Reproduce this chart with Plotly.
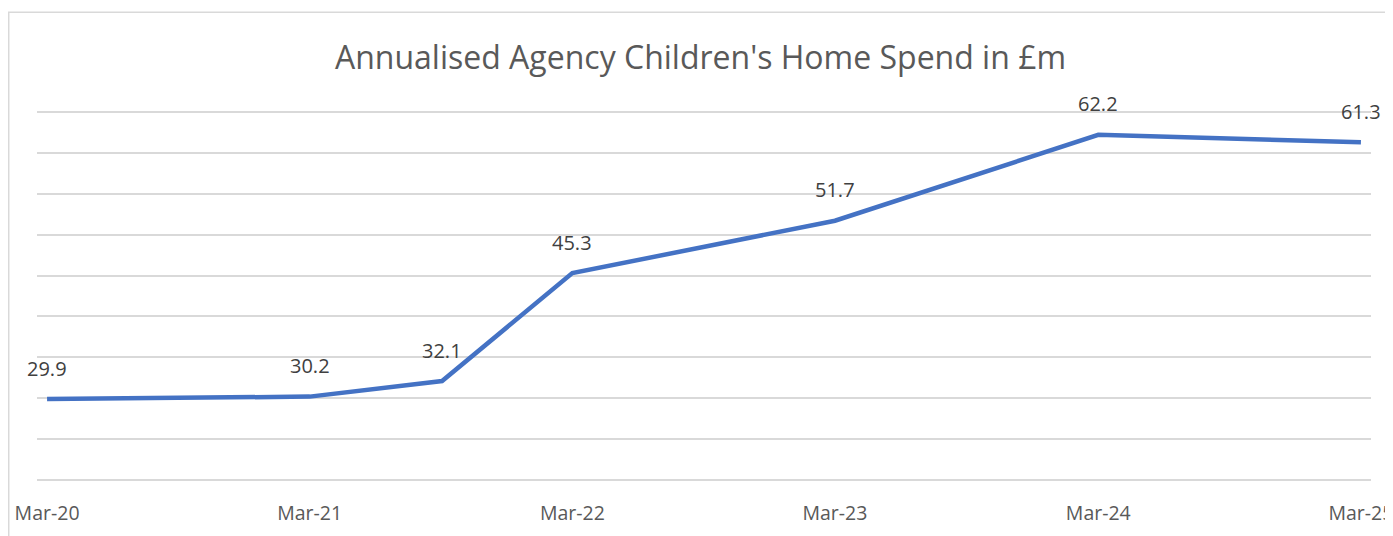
import plotly.graph_objects as go

# Annualised agency children's home spend (£m)
dates = ["2020-03-01", "2021-03-01", "2021-09-01", "2022-03-01",
         "2023-03-01", "2024-03-01", "2025-03-01"]
spend = [29.9, 30.2, 32.1, 45.3, 51.7, 62.2, 61.3]
labels = ["29.9", "30.2", "32.1", "45.3", "51.7", "62.2", "61.3"]

tick_vals = ["2020-03-01", "2021-03-01", "2022-03-01", "2023-03-01",
             "2024-03-01", "2025-03-01"]
tick_text = ["Mar-20", "Mar-21", "Mar-22", "Mar-23", "Mar-24", "Mar-25"]

FONT = "Open Sans"

fig = go.Figure()
fig.add_trace(go.Scatter(x=dates, y=spend, mode="lines",
                         line=dict(color="#4472C4", width=4.5),
                         hoverinfo="x+y", showlegend=False))

for d, v, t in zip(dates, spend, labels):
    fig.add_annotation(x=d, y=v, text=t, showarrow=False, yshift=31,
                       font=dict(family=FONT, size=20, color="#404040"))

# page body has an 8px margin, so the figure is a bit smaller than the window
fig.update_layout(
    width=1385, height=528,
    margin=dict(l=29, r=22, t=102, b=54),
    paper_bgcolor="white", plot_bgcolor="white",
    title=dict(text="Annualised Agency Children's Home Spend in £m",
               x=0.5, xanchor="center", y=0.905, yanchor="middle",
               font=dict(family=FONT, size=32, color="#595959")),
)

fig.update_xaxes(type="date", range=["2020-02-16", "2025-03-15"],
                 tickvals=tick_vals, ticktext=tick_text,
                 showgrid=False, zeroline=False, showline=False,
                 ticks="outside", ticklen=14, tickcolor="rgba(0,0,0,0)",
                 ticklabeloverflow="allow", automargin=False,
                 tickfont=dict(family=FONT, size=19.5, color="#595959"))
fig.update_yaxes(range=[19.76, 65.24], tick0=20, dtick=5, showticklabels=False,
                 showgrid=True, gridcolor="#d9d9d9", gridwidth=1.5,
                 zeroline=False, showline=False, automargin=False)

# chart area border
fig.add_shape(type="rect", xref="paper", yref="paper",
              x0=-0.0212, x1=1.05, y0=-0.3, y1=1.263,
              line=dict(color="#d9d9d9", width=1.5), layer="below")

fig.write_html("out.html")
